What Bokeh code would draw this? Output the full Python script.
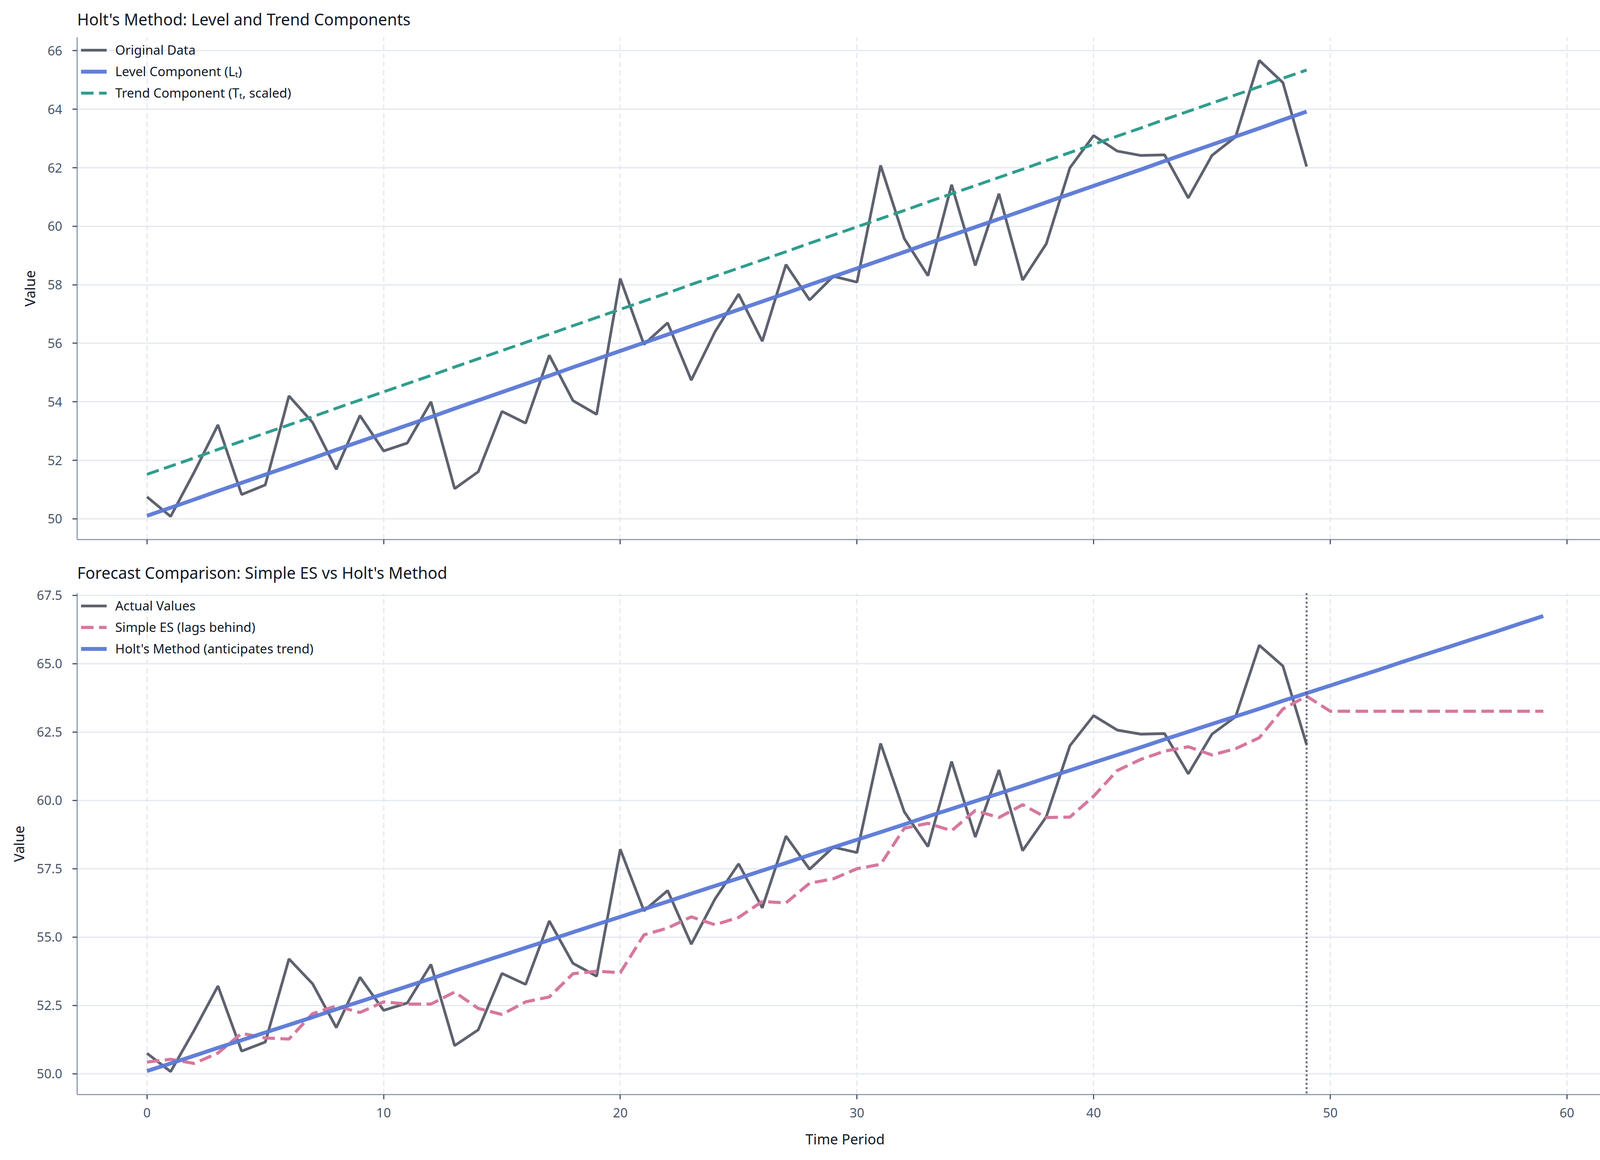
from bokeh.plotting import figure
from bokeh.models import Range1d, FixedTicker, Span, CustomJSTickFormatter, NumeralTickFormatter
from bokeh.layouts import column
from bokeh.embed import file_html
from bokeh.resources import INLINE

# ---------------- data ----------------
t_obs = list(range(50))
t_all = list(range(60))

original = [50.75, 50.08, 51.60, 53.21, 50.83, 51.16, 54.20, 53.29, 51.69, 53.53,
            52.32, 52.59, 54.00, 51.03, 51.61, 53.67, 53.27, 55.59, 54.04, 53.57,
            58.21, 55.96, 56.70, 54.74, 56.39, 57.68, 56.07, 58.69, 57.48, 58.29,
            58.09, 62.08, 59.58, 58.31, 61.42, 58.66, 61.11, 58.16, 59.40, 62.00,
            63.10, 62.57, 62.42, 62.44, 60.97, 62.42, 63.06, 65.67, 64.91, 62.04]

level = [50.10, 50.38, 50.66, 50.95, 51.23, 51.51, 51.79, 52.07, 52.36, 52.64,
         52.92, 53.20, 53.48, 53.77, 54.05, 54.33, 54.61, 54.89, 55.18, 55.46,
         55.74, 56.02, 56.30, 56.59, 56.87, 57.15, 57.43, 57.71, 58.00, 58.28,
         58.56, 58.84, 59.12, 59.41, 59.69, 59.97, 60.25, 60.53, 60.82, 61.10,
         61.38, 61.66, 61.94, 62.23, 62.51, 62.79, 63.07, 63.35, 63.64, 63.92]

trend_scaled = [51.52, 51.80, 52.08, 52.37, 52.65, 52.93, 53.21, 53.49, 53.78, 54.06,
                54.34, 54.62, 54.90, 55.19, 55.47, 55.75, 56.03, 56.31, 56.60, 56.88,
                57.16, 57.44, 57.72, 58.01, 58.29, 58.57, 58.85, 59.13, 59.42, 59.70,
                59.98, 60.26, 60.54, 60.83, 61.11, 61.39, 61.67, 61.95, 62.24, 62.52,
                62.80, 63.08, 63.36, 63.65, 63.93, 64.21, 64.49, 64.77, 65.06, 65.34]

simple_es = [50.43, 50.53, 50.38, 50.76, 51.48, 51.31, 51.27, 52.20, 52.48, 52.24,
             52.63, 52.55, 52.55, 52.99, 52.39, 52.17, 52.63, 52.81, 53.66, 53.75,
             53.70, 55.08, 55.33, 55.74, 55.45, 55.72, 56.30, 56.25, 56.97, 57.13,
             57.50, 57.66, 58.98, 59.16, 58.89, 59.63, 59.37, 59.84, 59.37, 59.39,
             60.15, 61.09, 61.50, 61.80, 61.96, 61.66, 61.89, 62.29, 63.34, 63.81,
             63.26, 63.26, 63.26, 63.26, 63.26, 63.26, 63.26, 63.26, 63.26, 63.26]

holt = [50.10, 50.38, 50.66, 50.95, 51.23, 51.51, 51.79, 52.07, 52.36, 52.64,
        52.92, 53.20, 53.48, 53.77, 54.05, 54.33, 54.61, 54.89, 55.18, 55.46,
        55.74, 56.02, 56.30, 56.59, 56.87, 57.15, 57.43, 57.71, 58.00, 58.28,
        58.56, 58.84, 59.12, 59.41, 59.69, 59.97, 60.25, 60.53, 60.82, 61.10,
        61.38, 61.66, 61.94, 62.23, 62.51, 62.79, 63.07, 63.35, 63.64, 63.92,
        64.20, 64.48, 64.76, 65.05, 65.33, 65.61, 65.89, 66.17, 66.46, 66.74]

forecast_origin = 49
x_ticks = [0, 10, 20, 30, 40, 50, 60]
y_ticks_top = [50, 52, 54, 56, 58, 60, 62, 64, 66]
y_ticks_bottom = [50.0, 52.5, 55.0, 57.5, 60.0, 62.5, 65.0, 67.5]

# ---------------- style ----------------
FONT = "Noto Sans"
GRAY = "#555a67"
BLUE = "#5a78d6"
TEAL = "#2f9d8e"
PINK = "#d6779e"
AXIS = "#8d9bb3"
TICK = "#4a5568"
GRID = "#e3e8ef"
VGRID = "#dfe4ec"
TXT = "#111827"

FRAME_W = 3932
x_range = Range1d(-2.95, 61.95)


def style(p, yticks, title_standoff):
    p.title.text_font = FONT
    p.title.text_font_size = "41px"
    p.title.text_font_style = "normal"
    p.title.text_color = TXT
    p.title.standoff = title_standoff
    p.outline_line_color = None
    p.background_fill_color = "white"
    p.border_fill_color = "white"

    for ax in (p.xaxis[0], p.yaxis[0]):
        ax.axis_line_color = AXIS
        ax.axis_line_width = 3
        ax.major_tick_line_color = TICK
        ax.major_tick_line_width = 3
        ax.major_tick_out = 12
        ax.major_tick_in = 0
        ax.minor_tick_line_color = None
        ax.major_label_text_font = FONT
        ax.major_label_text_font_size = "33px"
        ax.major_label_text_color = TICK
        ax.axis_label_text_font = FONT
        ax.axis_label_text_font_size = "36px"
        ax.axis_label_text_font_style = "normal"
        ax.axis_label_text_color = TXT
    p.xaxis.major_label_standoff = 22
    p.xaxis.axis_label_standoff = 28
    p.yaxis.major_label_standoff = 26
    p.yaxis.axis_label_standoff = 18

    p.xaxis.ticker = FixedTicker(ticks=x_ticks)
    p.yaxis.ticker = FixedTicker(ticks=yticks)

    p.ygrid.grid_line_color = GRID
    p.ygrid.grid_line_width = 3
    p.xgrid.grid_line_color = VGRID
    p.xgrid.grid_line_width = 2.5
    p.xgrid.grid_line_dash = "14 8"


def style_legend(p):
    lg = p.legend[0]
    lg.location = "top_left"
    lg.margin = 0
    lg.padding = 10
    lg.spacing = 10
    lg.glyph_width = 66
    lg.glyph_height = 40
    lg.label_height = 40
    lg.label_standoff = 22
    lg.label_text_font = FONT
    lg.label_text_font_size = "33px"
    lg.label_text_color = TXT
    lg.background_fill_alpha = 0
    lg.border_line_alpha = 0


# ---------------- top panel ----------------
p1 = figure(title="Holt's Method: Level and Trend Components",
            frame_width=FRAME_W, frame_height=1286,
            x_range=x_range, y_range=Range1d(49.29, 66.46),
            output_backend="svg", toolbar_location=None,
            min_border_left=197, min_border_right=25,
            min_border_top=94, min_border_bottom=30)
style(p1, y_ticks_top, 37)
p1.yaxis.axis_label = "Value"
p1.xaxis.formatter = CustomJSTickFormatter(code="return ''")

p1.line(t_obs, original, line_color=GRAY, line_width=7, line_alpha=0.95,
        legend_label="Original Data")
p1.line(t_obs, level, line_color=BLUE, line_width=10, line_alpha=0.95,
        legend_label="Level Component (L\u209c)")
p1.line(t_obs, trend_scaled, line_color=TEAL, line_width=7.5, line_dash="32 14",
        legend_label="Trend Component (T\u209c, scaled)")
style_legend(p1)

# ---------------- bottom panel ----------------
p2 = figure(title="Forecast Comparison: Simple ES vs Holt's Method",
            frame_width=FRAME_W, frame_height=1284,
            x_range=x_range, y_range=Range1d(49.24, 67.58),
            output_backend="svg", toolbar_location=None,
            min_border_left=197, min_border_right=25,
            min_border_top=106, min_border_bottom=150)
style(p2, y_ticks_bottom, 49)
p2.yaxis.axis_label = "Value"
p2.xaxis.axis_label = "Time Period"
p2.yaxis.formatter = NumeralTickFormatter(format="0.0")

p2.line(t_obs, original, line_color=GRAY, line_width=7, line_alpha=0.95,
        legend_label="Actual Values")
p2.line(t_all, simple_es, line_color=PINK, line_width=8, line_dash="32 14",
        legend_label="Simple ES (lags behind)")
p2.line(t_all, holt, line_color=BLUE, line_width=10, line_alpha=0.95,
        legend_label="Holt's Method (anticipates trend)")
p2.add_layout(Span(location=forecast_origin, dimension="height",
                   line_color="#4b5060", line_width=5, line_dash="5 6",
                   line_alpha=0.85))
style_legend(p2)

layout = column(p1, p2, spacing=0)
open("out.html", "w").write(file_html(layout, INLINE))
